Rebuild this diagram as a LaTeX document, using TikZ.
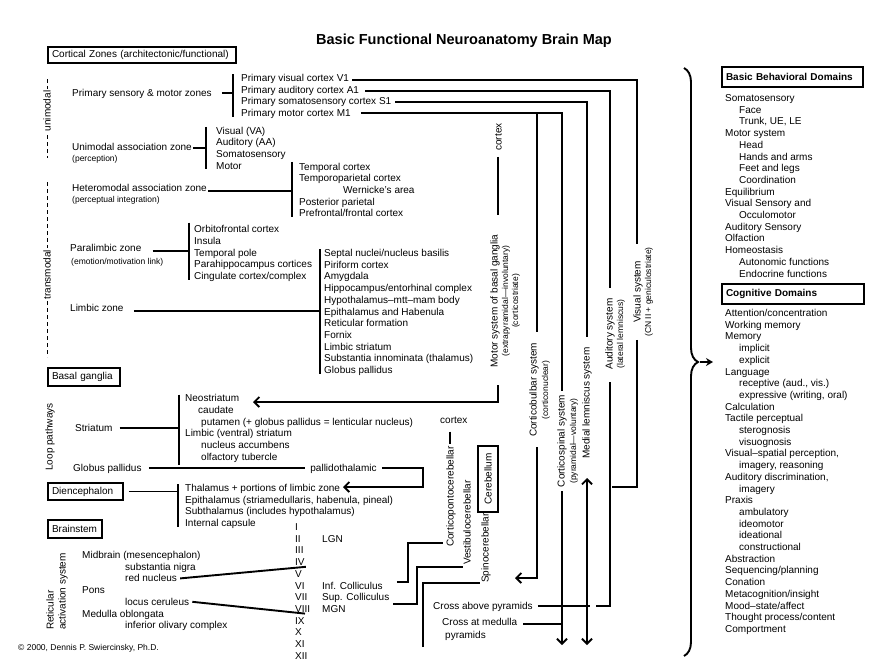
\documentclass[tikz,border=0pt]{standalone}
\usepackage{fontspec}
\setmainfont{Liberation Sans}
\usetikzlibrary{arrows.meta,calc,decorations.pathreplacing}

\tikzset{
  lbl/.style={anchor=west, inner sep=0pt, text height=7pt, text depth=0pt},
  sml/.style={lbl, text height=6pt, font=\fontsize{8.5}{10}\selectfont},
  vtxt/.style={rotate=90, inner sep=0pt, text height=7pt, text depth=0pt},
  vsml/.style={vtxt, text height=6pt, font=\fontsize{8.5}{10}\selectfont},
  hdbox/.style={draw, line width=1.9pt, inner xsep=4pt, inner ysep=0pt, align=left},
  ln/.style={line width=1.9pt},
  barb/.style={-{Straight Barb[length=5pt,width=10pt]}},
  dbarb/.style={{Straight Barb[length=5pt,width=10pt]}-{Straight Barb[length=5pt,width=10pt]}},
  mdash/.style={line width=0.8pt, dash pattern=on 4pt off 3pt},
}

\begin{document}
\begin{tikzpicture}[x=1pt, y=-1pt, font=\fontsize{10}{12}\selectfont]
\useasboundingbox (0,0) rectangle (880,664);

% title and headings
\node[font=\bfseries\fontsize{14.5}{17}\selectfont] (title) at (464,41) {Basic Functional Neuroanatomy Brain Map};
\node[hdbox, text width=180pt, minimum height=16pt] (cz) at (142,55) {Cortical Zones (architectonic/functional)};
\node[hdbox, text width=64pt, minimum height=18pt] (bg) at (84,377) {Basal ganglia};
\node[hdbox, text width=67pt, minimum height=17pt] (di) at (85.5,491.5) {Diencephalon};
\node[hdbox, text width=46pt, minimum height=18pt] (bs) at (75,529) {Brainstem};
\node[hdbox, text width=133pt, minimum height=20pt, font=\bfseries] (bbd) at (792.5,77) {Basic Behavioral Domains};
\node[hdbox, text width=134pt, minimum height=20pt, font=\bfseries] (cd) at (793,294) {Cognitive Domains};

% cortical zones
\coordinate (uniT) at (47,79);
\coordinate (uniB) at (47,158);
\coordinate (traT) at (47,182);
\coordinate (traB) at (47,357);
\draw[mdash] (uniT) -- (uniB);
\draw[mdash] (traT) -- (traB);
\node[vtxt, fill=white, inner xsep=2pt] (uni) at ($(uniT)!0.405!(uniB)$) {unimodal};
\node[vtxt, fill=white, inner xsep=2pt] (tra) at ($(traT)!0.53!(traB)$) {transmodal};

\node[lbl] (psm) at (72,93) {Primary sensory \& motor zones};
\node[lbl] (uaz) at (72,147) {Unimodal association zone};
\node[sml] (uazs) at (72,158) {(perception)};
\node[lbl] (haz) at (72,188) {Heteromodal association zone};
\node[sml] (hazs) at (72,199.5) {(perceptual integration)};
\node[lbl] (plz) at (70,248) {Paralimbic zone};
\node[sml] (plzs) at (71,261) {(emotion/motivation link)};
\node[lbl] (lz) at (70,308) {Limbic zone};

\node[lbl] (v1) at (241,77.8) {Primary visual cortex V1};
\node[lbl] (a1) at (241,89.5) {Primary auditory cortex A1};
\node[lbl] (s1) at (241,101.2) {Primary somatosensory cortex S1};
\node[lbl] (m1) at (241,112.9) {Primary motor cortex M1};

\foreach \t [count=\i from 0] in {Visual (VA), Auditory (AA), Somatosensory, Motor}
  \node[lbl] (ua\i) at (216, 130.5+11.7*\i) {\t};
\foreach \x/\t [count=\i from 0] in {299/{Temporal cortex}, 299/{Temporoparietal cortex},
    343/{Wernicke's area}, 299/{Posterior parietal}, 299/{Prefrontal/frontal cortex}}
  \node[lbl] (hm\i) at (\x, 166.5+11.7*\i) {\t};
\foreach \t [count=\i from 0] in {Orbitofrontal cortex, Insula, Temporal pole,
    Parahippocampus cortices, Cingulate cortex/complex}
  \node[lbl] (pl\i) at (194, 229.3+11.7*\i) {\t};
\foreach \t [count=\i from 0] in {Septal nuclei/nucleus basilis, Piriform cortex, Amygdala,
    Hippocampus/entorhinal complex, Hypothalamus--mtt--mam body, Epithalamus and Habenula,
    Reticular formation, Fornix, Limbic striatum, Substantia innominata (thalamus), Globus pallidus}
  \node[lbl] (lb\i) at (324, 253+11.7*\i) {\t};

% brackets
\coordinate (brA1) at ($(v1.north west)+(-8,0)$);
\coordinate (brA2) at ($(m1.south west)+(-8,0)$);
\coordinate (brB1) at ($(ua0.north west)+(-10,0)$);
\coordinate (brB2) at ($(ua3.south west)+(-10,0)$);
\coordinate (brC1) at ($(hm0.north west)+(-7,-1)$);
\coordinate (brC2) at ($(hm4.south west)+(-7,0)$);
\coordinate (brD1) at ($(pl0.north west)+(-5,-3)$);
\coordinate (brD2) at ($(pl4.south west)+(-5,0)$);
\coordinate (brE1) at ($(lb0.north west)+(-4,0)$);
\coordinate (brE2) at ($(lb10.south west)+(-4,0)$);
\foreach \b in {A,B,C,D,E}
  \draw[ln] (br\b1) -- (br\b2);
\draw[ln] ($(psm.east)+(10,0)$) -- (psm.east -| brA1);
\draw[ln] ($(uaz.east)+(1,1)$) -- ($(uaz.east -| brB1)+(0,1)$);
\draw[ln] ($(haz.east)+(1,3)$) -- ($(haz.east -| brC1)+(0,3)$);
\draw[ln] ($(plz.east)+(11,3)$) -- ($(plz.east -| brD1)+(0,3)$);
\draw[ln] ($(lz.east)+(10,3)$) -- ($(lz.east -| brE1)+(0,3)$);

% basal ganglia
\node[vtxt] (loop) at (49,437) {Loop pathways};
\node[lbl] (str) at (75,428) {Striatum};
\node[lbl] (gp) at (73,468) {Globus pallidus};
\foreach \x/\t [count=\i from 0] in {185/Neostriatum, 198/caudate,
    201/{putamen (+ globus pallidus = lenticular nucleus)}, 185/{Limbic (ventral) striatum},
    201/{nucleus accumbens}, 201/{olfactory tubercle}}
  \node[lbl] (st\i) at (\x, 398.3+11.7*\i) {\t};
\coordinate (brF1) at ($(st0.north west)+(-6,0)$);
\coordinate (brF2) at ($(st0.west |- st5.south)+(-6,4)$);
\draw[ln] (brF1) -- (brF2);
\draw[ln] ($(str.east)+(7,0)$) -- (str.east -| brF1);

\node[inner xsep=5pt, inner ysep=0pt, text height=7pt, text depth=0pt] (pt) at (343.5,468) {pallidothalamic};
\coordinate (ptC) at (423,468);
\coordinate (thE) at (343,487);
\draw[ln] ($(gp.east)+(7,0)$) -- (pt.west);
\draw[ln,barb] (pt.east) -- (ptC) |- (thE);

% diencephalon
\foreach \t [count=\i from 0] in {Thalamus + portions of limbic zone,
    {Epithalamus (striamedullaris, habenula, pineal)}, Subthalamus (includes hypothalamus),
    Internal capsule}
  \node[lbl] (th\i) at (185, 488+11.7*\i) {\t};
\coordinate (brG1) at ($(th0.north west)+(-7,0)$);
\coordinate (brG2) at ($(th3.south west)+(-7,0)$);
\draw[ln] (brG1) -- (brG2);
\draw[ln] ($(di.east)+(5,0)$) -- (di.east -| brG1);

% brainstem
\node[vtxt, anchor=west] (ret1) at (50,630) {Reticular};
\node[vtxt, anchor=west] (ret2) at (62,630) {activation system};
\foreach \x/\t [count=\i from 0] in {82/{Midbrain (mesencephalon)}, 125/{substantia nigra},
    125/{red nucleus}, 82/Pons, 125/{locus ceruleus}, 82/{Medulla oblongata},
    125/{inferior olivary complex}}
  \node[lbl] (bs\i) at (\x, 555+11.7*\i) {\t};
\foreach \r [count=\i from 0] in {I,II,III,IV,V,VI,VII,VIII,IX,X,XI,XII}
  \node[lbl] (cn\i) at (295, 527+11.7*\i) {\r};
\draw[ln] ($(bs2.east)+(3,0)$) -- ($(cn3.south east)+(1,1)$);
\draw[ln] ($(bs4.east)+(3,0)$) -- ($(cn7.south west)+(10,1)$);
\node[lbl] (lgn) at (322,539) {LGN};
\node[lbl] (icol) at (322,586) {Inf. Colliculus};
\node[lbl] (scol) at (322,597) {Sup. Colliculus};
\node[lbl] (mgn) at (322,609) {MGN};

% cerebellum
\node[lbl] (ctxB) at (440,420) {cortex};
\node[vtxt, anchor=west] (cpc) at (450,547) {Corticopontocerebellar};
\node[vtxt, anchor=west] (vcb) at (467,565) {Vestibulocerebellar};
\node[vtxt, anchor=west] (scb) at (485,583) {Spinocerebellar};
\node[hdbox, rotate=90, align=center, inner sep=0pt, minimum width=66pt, minimum height=20pt] (cbl) at (488,479) {Cerebellum};
\draw[ln] ($(ctxB.south -| cpc.east)+(0,8)$) -- ($(cpc.east)+(0,-2)$);
\coordinate (icA) at (408,582);
\coordinate (scA) at (417,604);
\coordinate (spA) at (423,647);
\draw[ln] ($(icol.east)+(14,-4)$) -- (icA) |- ($(cpc.west)+(-7,-4)$);
\draw[ln] ($(scol.east)+(4,7)$) -- (scA) |- ($(vcb.west)+(-4,2)$);
\draw[ln] (spA) |- ($(scb.west)+(-5,0)$);

% descending and ascending systems
\node[vtxt] (ctxA) at (498,137) {cortex};
\node[vtxt] (mbg) at (494,301) {Motor system of basal ganglia};
\node[vsml] (mbg2) at (505,301) {(extrapyramidal---involuntary)};
\node[vsml] (mbg3) at (515,301) {(corticostriate)};
\coordinate (mbT) at (498,215);
\coordinate (mbB) at (498,385);
\coordinate (mbE) at (253,402);
\draw[ln] ($(ctxA.west)+(0,6)$) -- (mbT);
\draw[ln,barb] (mbB) |- (mbE);

\node[vtxt] (cbs) at (533,390) {Corticobulbar system};
\node[vsml] (cbs2) at (545,390) {(corticonuclear)};
\coordinate (cbT) at (537,332);
\coordinate (cbB) at (537,447);
\coordinate (cbE) at (515,578);
\draw[ln] (cbT |- m1.east) -- (cbT);
\draw[ln,barb] (cbB) |- (cbE);

\node[vtxt] (css) at (561,441) {Corticospinal system};
\node[vsml] (css2) at (573,441) {(pyramidal---voluntary)};
\coordinate (csT) at ($(css.east)+(1,-4)$);
\coordinate (csB) at ($(css.west)+(1,4)$);
\coordinate (csE) at (562,645);
\draw[ln] ($(m1.east)+(10,0)$) -| (csT);
\draw[ln,barb] (csB) -- (csE);

\node[vtxt] (mls) at (586,403) {Medial lemniscus system};
\coordinate (mlT) at (587,337);
\coordinate (mlB) at (587,478);
\coordinate (mlE) at (587,645);
\draw[ln] ($(s1.east)+(4,1)$) -| (mlT);
\draw[ln,dbarb] (mlB) -- (mlE);

\node[vtxt] (aud) at (609,334) {Auditory system};
\node[vsml] (aud2) at (620,334) {(lateral lemniscus)};
\coordinate (audT) at (610,288);
\coordinate (audB) at (610,382);
\coordinate (audE) at (596,606);
\draw[ln] ($(a1.east)+(6,1.5)$) -| (audT);
\draw[ln] (audB) |- (audE);

\node[vtxt] (vis) at (637,292) {Visual system};
\node[vsml] (vis2) at (648,292) {(CN II + geniculostriate)};
\coordinate (visT) at ($(vis2.east -| vis)+(0,-3)$);
\coordinate (visB) at ($(vis2.west -| vis)+(0,3)$);
\coordinate (visE) at (612,487);
\draw[ln] ($(v1.east)+(3,2)$) -| (visT);
\draw[ln] (visB) |- (visE);

\node[lbl] (cap) at (433,606) {Cross above pyramids};
\node[lbl] (cam) at (442,622) {Cross at medulla};
\node[lbl] (cam2) at (445,635) {pyramids};
\draw[ln] ($(cap.east)+(5,0)$) -- ($(cap.east -| mlE)+(3,0)$);
\draw[ln] ($(cam.east)+(6,2)$) -- ($(cam.east -| csE)+(0,2)$);

% behavioral and cognitive domains
\foreach \d/\t [count=\i from 0] in {0/Somatosensory, 1/Face, 1/{Trunk, UE, LE}, 0/{Motor system},
    1/Head, 1/{Hands and arms}, 1/{Feet and legs}, 1/Coordination, 0/Equilibrium,
    0/{Visual Sensory and}, 1/Occulomotor, 0/{Auditory Sensory}, 0/Olfaction, 0/Homeostasis,
    1/{Autonomic functions}, 1/{Endocrine functions}}
  \node[lbl] (bd\i) at (725+14*\d, 98+11.7*\i) {\t};
\foreach \d/\t [count=\i from 0] in {0/{Attention/concentration}, 0/{Working memory}, 0/Memory,
    1/implicit, 1/explicit, 0/Language, 1/{receptive (aud., vis.)}, 1/{expressive (writing, oral)},
    0/Calculation, 0/{Tactile perceptual}, 1/sterognosis, 1/visuognosis,
    0/{Visual--spatial perception,}, 1/{imagery, reasoning}, 0/{Auditory discrimination,},
    1/imagery, 0/Praxis, 1/ambulatory, 1/ideomotor, 1/ideational, 1/constructional,
    0/Abstraction, 0/{Sequencing/planning}, 0/Conation, 0/{Metacognition/insight},
    0/{Mood--state/affect}, 0/{Thought process/content}, 0/Comportment}
  \node[lbl] (cg\i) at (725+14*\d, 313+11.7*\i) {\t};

\coordinate (brTop) at (684,68);
\coordinate (brBot) at (684,656);
\coordinate (brTip) at (700,362);
\coordinate (cdIn) at (713,362);
\draw[ln, decorate, decoration={brace, amplitude=14pt}] (brTop) -- (brBot);
\draw[ln, -{Stealth[length=7pt,width=8pt]}] (brTip) -- (cdIn);

\node[sml] (copy) at (18,647) {\textcopyright{} 2000, Dennis P. Swiercinsky, Ph.D.};
\end{tikzpicture}
\end{document}
